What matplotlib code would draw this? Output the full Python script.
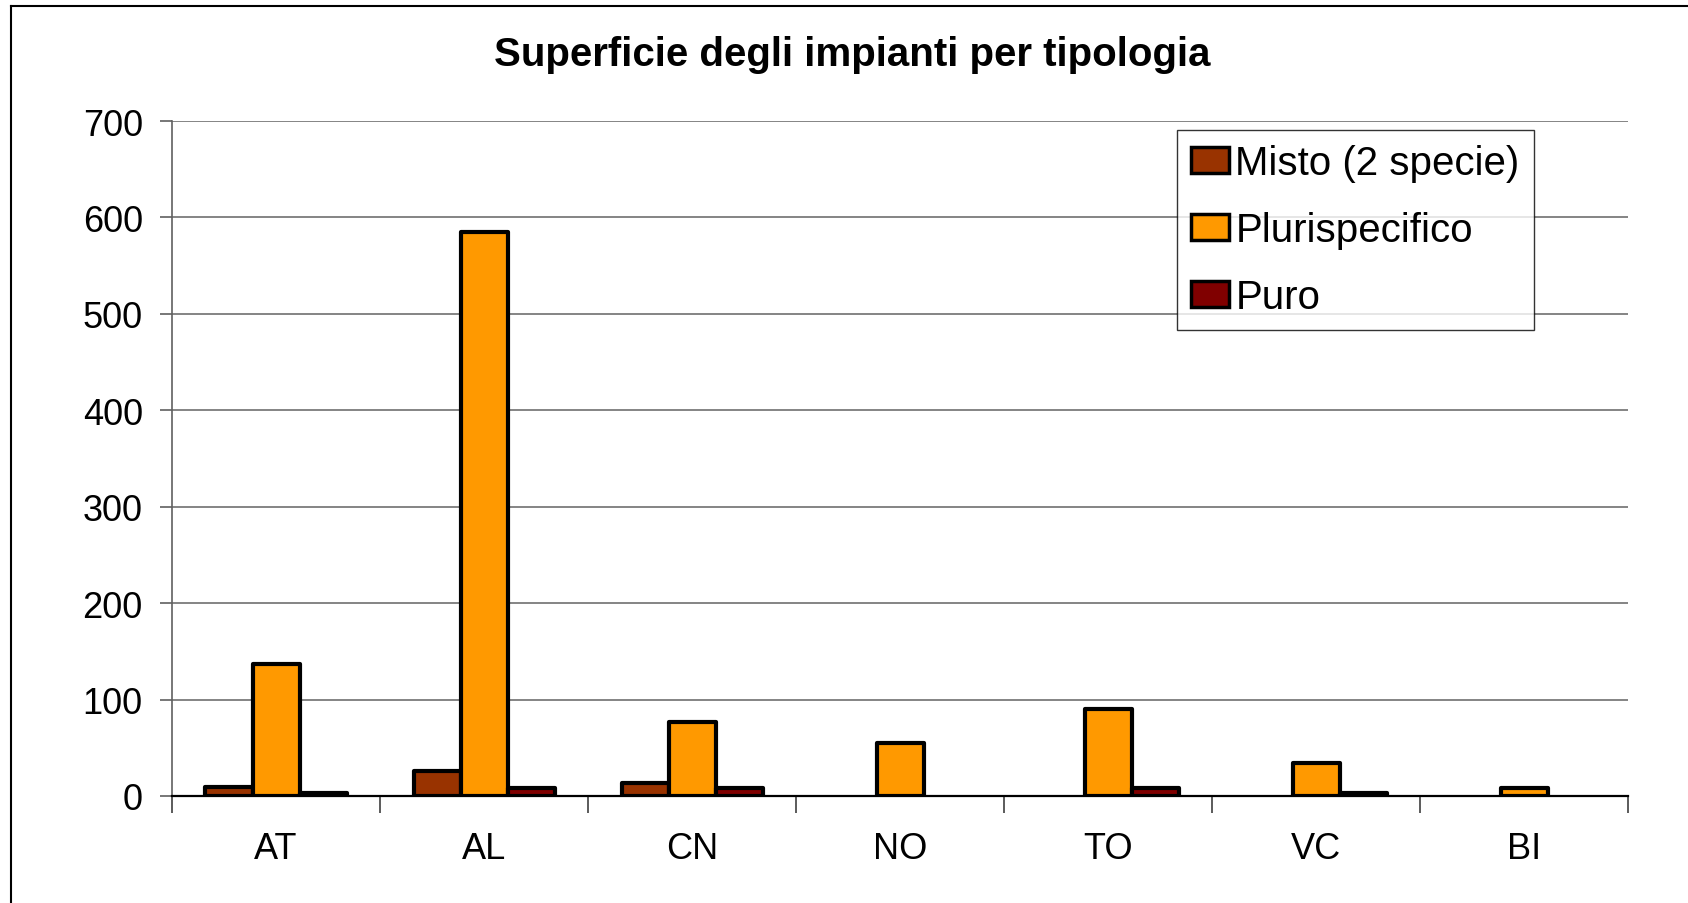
import matplotlib
matplotlib.use("Agg")
import matplotlib.pyplot as plt
from matplotlib.lines import Line2D
import numpy as np

plt.rcParams["font.family"] = ["Liberation Sans", "DejaVu Sans"]

# data
categories = ["AT", "AL", "CN", "NO", "TO", "VC", "BI"]
series_names = ["Misto (2 specie)", "Plurispecifico", "Puro"]
misto = [9, 26, 13, 0, 0, 0, 0]
plurispecifico = [137, 585, 77, 55, 90, 34, 8]
puro = [3, 8, 8, 0, 8, 3, 0]
colors = ["#993300", "#FF9900", "#800000"]
y_ticks = [0, 100, 200, 300, 400, 500, 600, 700]

fig = plt.figure(figsize=(16.88, 9.04), dpi=100)
ax = fig.add_axes([0.1019, 0.1184, 0.8626, 0.7466])

x = np.arange(len(categories))
w = 0.226
for i, (vals, name) in enumerate(zip([misto, plurispecifico, puro], series_names)):
    v = np.array(vals, dtype=float)
    v[v == 0] = np.nan  # empty cells are not drawn
    ax.bar(x + (i - 1) * w, v, width=w, color=colors[i], edgecolor="black",
           linewidth=3.0, label=name, zorder=3, joinstyle="round")

ax.set_xlim(-0.5, len(categories) - 0.5)
ax.set_ylim(0, 700)
ax.set_yticks(y_ticks)
ax.yaxis.grid(True, color="#707070", linewidth=1.2, zorder=0)
ax.tick_params(axis="y", labelsize=26, length=9, width=1.2, color="#606060", pad=12)

# category labels at centres, tick marks at boundaries
ax.set_xticks(x)
ax.set_xticklabels(categories)
ax.set_xticks(np.arange(-0.5, len(categories)), minor=True)
ax.tick_params(axis="x", which="major", length=0, labelsize=26, pad=25)
ax.tick_params(axis="x", which="minor", length=12, width=1.2, color="#404040")

for s in ["top", "right"]:
    ax.spines[s].set_visible(False)
ax.spines["left"].set_color("#606060")
ax.spines["left"].set_linewidth(1.2)
ax.spines["bottom"].set_color("black")
ax.spines["bottom"].set_linewidth(1.6)
ax.spines["bottom"].set_zorder(4)

fig.text(0.505, 0.939, "Superficie degli impianti per tipologia", ha="center",
         va="center", fontsize=29, fontweight="bold")

leg = ax.legend(loc="upper left", bbox_to_anchor=(0.6973, 0.855),
                bbox_transform=fig.transFigure, fontsize=29, frameon=True,
                fancybox=False, edgecolor="black", handlelength=0.95,
                handleheight=0.65, handletextpad=0.15, labelspacing=0.72,
                borderpad=0.35, borderaxespad=0)
leg.get_frame().set_linewidth(1.0)
for h in leg.legend_handles:
    h.set_linewidth(2.5)

# figure border (left and top)
fig.add_artist(Line2D([11 / 1688, 11 / 1688], [0, 1 - 7 / 904], color="black",
                      linewidth=1.5, transform=fig.transFigure))
fig.add_artist(Line2D([11 / 1688, 1], [1 - 7 / 904, 1 - 7 / 904], color="black",
                      linewidth=1.5, transform=fig.transFigure))

fig.savefig("out.png", dpi=100)
